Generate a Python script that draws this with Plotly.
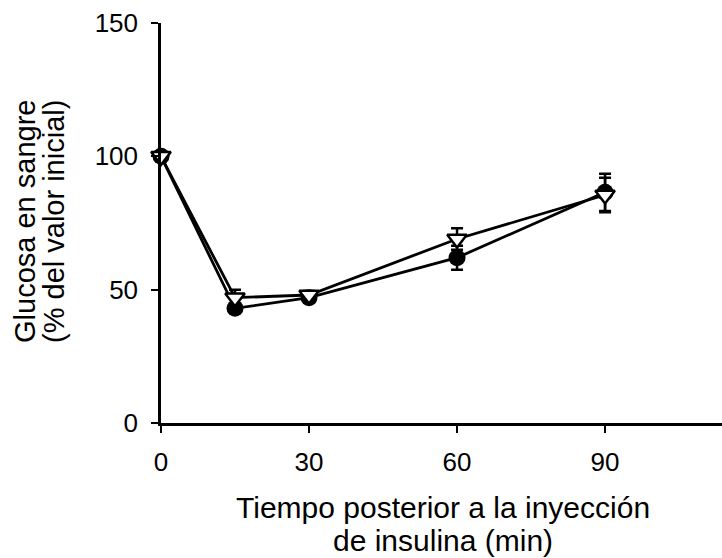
import plotly.graph_objects as go

# Time after insulin injection (min)
tiempo = [0, 15, 30, 60, 90]

# Blood glucose, % of initial value
glucosa_circulo = [100, 43, 47, 62, 86.5]
error_circulo = [0, 1.5, 1.5, 4.5, 7]

glucosa_triangulo = [100, 47, 48, 69, 85.5]
error_triangulo = [0, 3, 1.5, 4, 6.5]

FONT = "Liberation Sans, Arial, sans-serif"

fig = go.Figure()

fig.add_trace(go.Scatter(
    x=tiempo, y=glucosa_circulo, mode="lines+markers",
    line=dict(color="black", width=2.8),
    marker=dict(symbol="circle", size=17, color="black"),
    error_y=dict(type="data", array=error_circulo, color="black", thickness=2.5, width=6),
    cliponaxis=False, showlegend=False,
))
fig.add_trace(go.Scatter(
    x=tiempo, y=glucosa_triangulo, mode="lines+markers",
    line=dict(color="black", width=2.8),
    marker=dict(symbol="triangle-down", size=17, color="white",
                line=dict(color="black", width=2.5)),
    error_y=dict(type="data", array=error_triangulo, color="black", thickness=2.5, width=6),
    cliponaxis=False, showlegend=False,
))

fig.update_xaxes(
    range=[0, 113.7], tickvals=[0, 30, 60, 90], ticks="outside", ticklen=7,
    tickwidth=2, tickcolor="black", showline=True, linecolor="black", linewidth=2.5,
    showgrid=False, zeroline=False, ticklabelstandoff=7,
    tickfont=dict(family=FONT, size=26, color="black"),
)
fig.update_yaxes(
    range=[0, 150], tickvals=[0, 50, 100, 150], ticks="outside", ticklen=7,
    tickwidth=2, tickcolor="black", showline=True, linecolor="black", linewidth=2.5,
    showgrid=False, zeroline=False, ticklabelstandoff=8,
    tickfont=dict(family=FONT, size=26, color="black"),
)

# Axis titles, one annotation per line for tight line spacing
def px_x(px):
    return (px - 161) / 561

def px_y(py):
    return (423 - py) / 400

titulo_x = ["Tiempo posterior a la inyección", "de insulina (min)"]
for texto, py in zip(titulo_x, [508, 540]):
    fig.add_annotation(
        text=texto, xref="paper", yref="paper", x=px_x(443), y=px_y(py),
        showarrow=False, font=dict(family=FONT, size=30, color="black"),
        xanchor="center", yanchor="middle",
    )

titulo_y = ["Glucosa en sangre", "(% del valor inicial)"]
for texto, px in zip(titulo_y, [25, 54]):
    fig.add_annotation(
        text=texto, xref="paper", yref="paper", x=px_x(px), y=px_y(222),
        showarrow=False, textangle=-90, font=dict(family=FONT, size=29, color="black"),
        xanchor="center", yanchor="middle",
    )

fig.update_layout(
    width=722, height=558,
    margin=dict(l=161, r=0, t=23, b=135),
    plot_bgcolor="white", paper_bgcolor="white",
)

fig.write_html("out.html")
